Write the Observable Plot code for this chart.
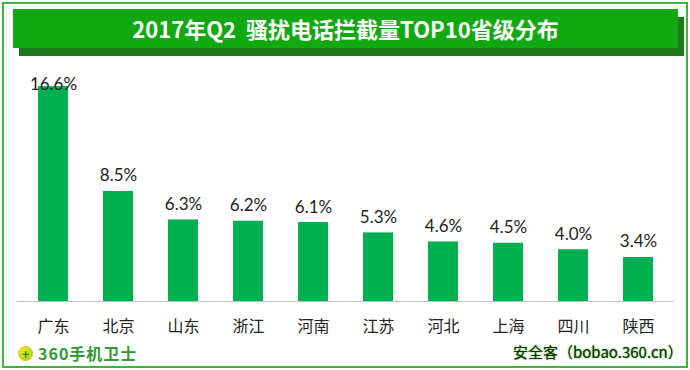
<!DOCTYPE html>
<html><head><meta charset="utf-8">
<script src="https://cdn.jsdelivr.net/npm/d3@7"></script>
<script src="https://cdn.jsdelivr.net/npm/@observablehq/plot@0.6"></script>
<style>
body{margin:0;background:#fff;}
#wrap{position:relative;width:690px;height:370px;overflow:hidden;font-family:"Noto Sans CJK SC",sans-serif;}
#border{position:absolute;left:2px;top:2px;width:682px;height:362px;border:2px solid #3cb53c;}
#shadow{position:absolute;left:19px;top:17px;width:665px;height:39px;background:#1b7a1b;}
#banner{position:absolute;left:13px;top:9px;width:665px;height:39px;background:#12a812;color:#fff;font-weight:bold;font-size:22px;line-height:39px;text-align:center;white-space:pre;}
#chart{position:absolute;left:0;top:60px;}
#logo{position:absolute;left:18px;top:342px;height:22px;display:flex;align-items:center;color:#2f9a36;font-size:16px;font-weight:bold;letter-spacing:1px;}
#logo .ic{width:15px;height:15px;border-radius:50%;background:radial-gradient(circle at 40% 40%,#f4e62a,#9cc61a);color:#2f8a2f;font-size:13px;line-height:15px;text-align:center;margin-right:5px;letter-spacing:0;}
#src{position:absolute;left:513px;top:341px;font-size:15px;color:#222;white-space:pre;text-shadow:0 0 2px #5cd03a,0 0 1px #5cd03a;}
</style></head>
<body>
<div id="wrap">
  <div id="border"></div>
  <div id="shadow"></div>
  <div id="banner"></div>
  <div id="chart"></div>
  <div id="logo"><span class="ic">+</span><span>360手机卫士</span></div>
  <div id="src">安全客（bobao.360.cn）</div>
</div>
<script>
const title = "2017年Q2  骚扰电话拦截量TOP10省级分布";
const provinces = ["广东","北京","山东","浙江","河南","江苏","河北","上海","四川","陕西"];
const shares = [16.6, 8.5, 6.3, 6.2, 6.1, 5.3, 4.6, 4.5, 4.0, 3.4];
const labels = ["16.6%","8.5%","6.3%","6.2%","6.1%","5.3%","4.6%","4.5%","4.0%","3.4%"];

document.getElementById("banner").textContent = title;

const data = provinces.map((p, i) => ({p, v: shares[i], t: labels[i]}));
const maxV = d3.max(shares);

const chart = Plot.plot({
  width: 690,
  height: 281,
  marginLeft: 17,
  marginRight: 16,
  marginTop: 8,
  marginBottom: 40,
  style: {fontFamily: "Lato, 'Noto Sans CJK SC', sans-serif", background: "transparent"},
  x: {domain: provinces, paddingInner: 0.54, paddingOuter: 0.27, label: null},
  y: {domain: [0, 18], axis: null},
  marks: [
    Plot.barY(data, {x: "p", y: "v", fill: "#00b050"}),
    Plot.ruleY([0], {stroke: "#c0c0c0", strokeWidth: 1}),
    Plot.text(data.filter(d => d.v < maxV), {x: "p", y: "v", text: "t", dy: -10, lineAnchor: "bottom", fontSize: 17, fill: "#222"}),
    Plot.text(data.filter(d => d.v >= maxV), {x: "p", y: "v", text: "t", dy: 3, lineAnchor: "bottom", fontSize: 17, fill: "#222"}),
    Plot.axisX({tickSize: 0, tickPadding: 19, fontSize: 16, fill: "#222", fontFamily: "'Noto Sans CJK SC', sans-serif"})
  ]
});
document.getElementById("chart").appendChild(chart);
</script>
</body></html>
